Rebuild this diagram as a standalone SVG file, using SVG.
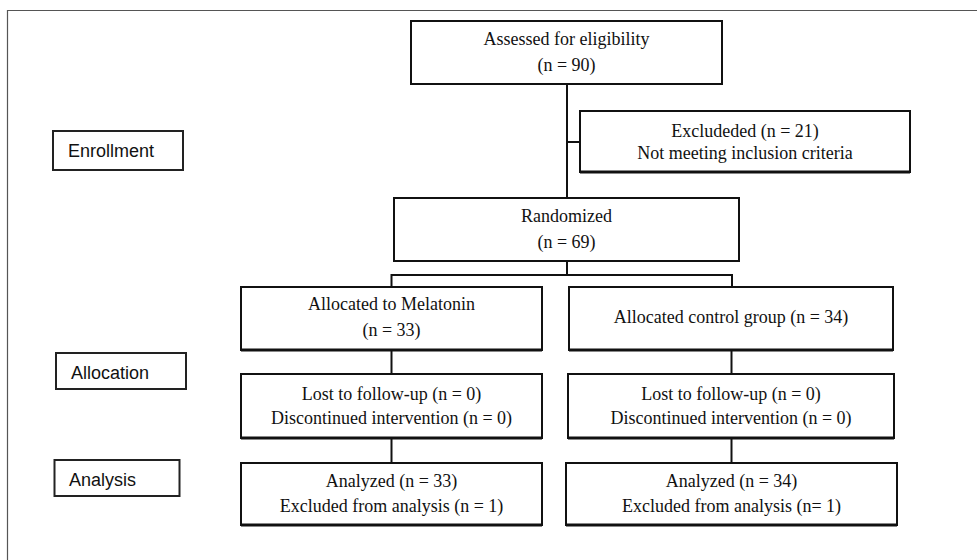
<svg xmlns="http://www.w3.org/2000/svg" width="977" height="560" viewBox="0 0 977 560">
<style>
.box{fill:#fff;stroke:#111;stroke-width:2}
.shadow{stroke:#111;stroke-width:3;fill:none}
.lbl{fill:#fff;stroke:#222;stroke-width:2}
.t{font-family:"Liberation Serif","Times New Roman",serif;font-size:18px;fill:#111;text-anchor:middle}
.s{font-family:"Liberation Sans",Arial,sans-serif;font-size:18px;fill:#111}
.c{stroke:#111;stroke-width:2;fill:none}
</style>
<rect x="0" y="0" width="977" height="560" fill="#fff"/>
<path d="M7.5 560 V10.5 H977" fill="none" stroke="#555" stroke-width="1.2"/>
<g id="connectors">
<path class="c" d="M567 84 V198"/>
<path class="c" d="M567 142 H580"/>
<path class="c" d="M567 261 V275"/>
<path class="c" d="M391.5 287 V275 H732 V287"/>
<path class="c" d="M391.5 351 V374"/>
<path class="c" d="M731.5 351 V374"/>
<path class="c" d="M391.5 439 V463"/>
<path class="c" d="M731.5 439 V463"/>
</g>
<g id="enrollment">
<rect class="lbl" x="53" y="131" width="130" height="39"/>
<text class="s" x="68" y="157">Enrollment</text>
</g>
<g id="allocation">
<rect class="lbl" x="56" y="353" width="130" height="36"/>
<text class="s" x="71" y="379">Allocation</text>
</g>
<g id="analysis">
<rect class="lbl" x="54.5" y="460" width="125" height="36"/>
<text class="s" x="69" y="486">Analysis</text>
</g>
<g id="assessed">
<rect class="box" x="411" y="21" width="311" height="63"/>
<text class="t" x="566.5" y="45">Assessed  for eligibility</text>
<text class="t" x="566.5" y="71">(n = 90)</text>
</g>
<g id="excluded">
<rect class="box" x="580" y="111" width="330" height="61"/>
<line class="shadow" x1="580" y1="172" x2="910" y2="172"/>
<text class="t" x="745" y="137">Excludeded (n = 21)</text>
<text class="t" x="745" y="159">Not meeting inclusion criteria</text>
</g>
<g id="randomized">
<rect class="box" x="394" y="198" width="345" height="63"/>
<text class="t" x="566.5" y="222">Randomized</text>
<text class="t" x="566.5" y="248">(n = 69)</text>
</g>
<g id="alloc-melatonin">
<rect class="box" x="241" y="287" width="301" height="63"/>
<line class="shadow" x1="241" y1="350" x2="542" y2="350"/>
<text class="t" x="391.5" y="310">Allocated to Melatonin</text>
<text class="t" x="391.5" y="336">(n = 33)</text>
</g>
<g id="alloc-control">
<rect class="box" x="569" y="287" width="324" height="63"/>
<line class="shadow" x1="569" y1="350" x2="893" y2="350"/>
<text class="t" x="731" y="323">Allocated control group (n = 34)</text>
</g>
<g id="lost-melatonin">
<rect class="box" x="241" y="374" width="301" height="64"/>
<line class="shadow" x1="241" y1="438" x2="542" y2="438"/>
<text class="t" x="391.5" y="400">Lost to follow-up (n = 0)</text>
<text class="t" x="391.5" y="424">Discontinued intervention (n = 0)</text>
</g>
<g id="lost-control">
<rect class="box" x="568" y="374" width="326" height="64"/>
<line class="shadow" x1="568" y1="438" x2="894" y2="438"/>
<text class="t" x="731" y="400">Lost to follow-up (n = 0)</text>
<text class="t" x="731" y="424">Discontinued intervention (n = 0)</text>
</g>
<g id="analyzed-melatonin">
<rect class="box" x="241" y="463" width="301" height="62"/>
<line class="shadow" x1="241" y1="525" x2="542" y2="525"/>
<text class="t" x="391.5" y="487">Analyzed  (n = 33)</text>
<text class="t" x="391.5" y="512">Excluded from analysis (n = 1)</text>
</g>
<g id="analyzed-control">
<rect class="box" x="566" y="463" width="331" height="62"/>
<line class="shadow" x1="566" y1="525" x2="897" y2="525"/>
<text class="t" x="731.5" y="487">Analyzed  (n = 34)</text>
<text class="t" x="731.5" y="512">Excluded from analysis (n= 1)</text>
</g>
</svg>
